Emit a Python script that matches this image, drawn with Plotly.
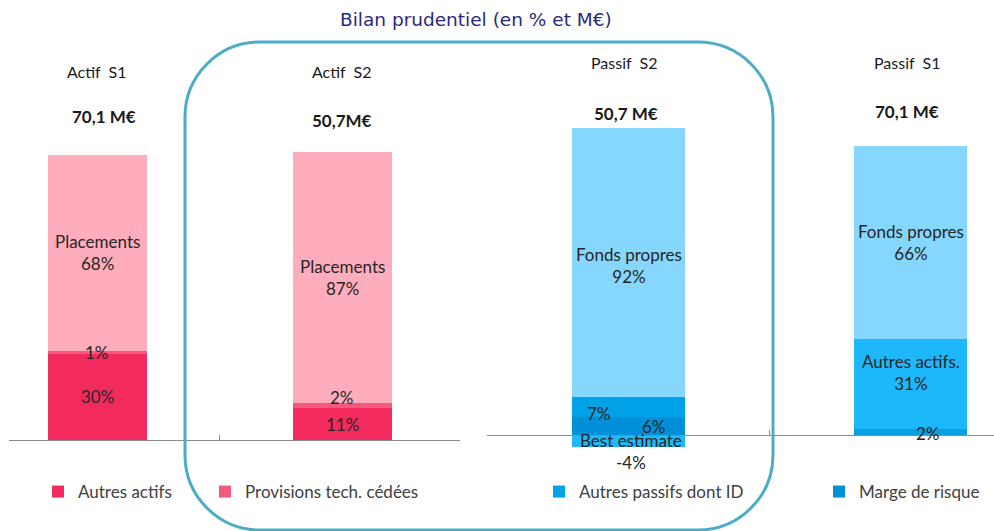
import plotly.graph_objects as go

# ---------------- data ----------------
left_categories = ["Actif S1", "Actif S2"]
left_totals = ["70,1 M€", "50,7M€"]
autres_actifs = [30, 11]
provisions_cedees = [1, 2]
placements = [68, 87]

right_categories = ["Passif S2", "Passif S1"]
right_totals = ["50,7 M€", "70,1 M€"]
marge_risque = [6, 2]
autres_passifs = [7, 31]
fonds_propres = [92, 66]
best_estimate = [-4, None]

title_text = "Bilan prudentiel (en % et M€)"

# ---------------- styles ----------------
W, H = 994, 531
FONT = "Lato, 'Open Sans', sans-serif"
TXT = "#262626"

c_autres_actifs = "#F22A5E"
c_provisions = "#F4587C"
c_placements = "#FFADBC"
c_marge = ["#0090DA", "#0A9FE3"]
c_autres_passifs = ["#00A2E8", "#1DB8FA"]
c_fonds = "#85D7FD"
c_best = "#20B9F6"

lo1, hi1 = -31.6, 152.8
lo2, hi2 = -32.9, 148.9

fig = go.Figure()

def bar(name, cats, vals, color, xa, ya, width, legend="legend", showlegend=True):
    fig.add_trace(go.Bar(
        name=name, x=cats, y=vals, marker=dict(color=color, line=dict(width=0)),
        xaxis=xa, yaxis=ya, width=width, showlegend=showlegend,
        legend=legend, hoverinfo="skip",
    ))

# left chart (actif)
bar("Autres actifs", left_categories, autres_actifs, c_autres_actifs, "x", "y", 0.404, "legend")
bar("Provisions tech. cédées", left_categories, provisions_cedees, c_provisions, "x", "y", 0.404, "legend2")
bar("Placements", left_categories, placements, c_placements, "x", "y", 0.404, showlegend=False)

# right chart (passif)
bar("Marge de risque", right_categories, marge_risque, c_marge, "x2", "y2", 0.40, "legend4")
bar("Autres passifs dont ID", right_categories, autres_passifs, c_autres_passifs, "x2", "y2", 0.40, "legend3")
bar("Fonds propres", right_categories, fonds_propres, c_fonds, "x2", "y2", 0.40, showlegend=False)
bar("Best estimate", right_categories, best_estimate, c_best, "x2", "y2", 0.40, showlegend=False)

annotations = []

def stack_labels(cats, series, labels, shifts, xref, yref):
    pos = [0] * len(cats)
    neg = [0] * len(cats)
    for s, vals in enumerate(series):
        for i, v in enumerate(vals):
            if v is None:
                continue
            if v >= 0:
                c = pos[i] + v / 2
                pos[i] += v
            else:
                c = neg[i] + v / 2
                neg[i] += v
            t = labels[s][i]
            if not t:
                continue
            dx, dy = shifts.get((s, i), (0, 0))
            annotations.append(dict(
                x=cats[i], y=c, xref=xref, yref=yref, text=t, showarrow=False,
                xshift=dx, yshift=dy, yanchor="middle", xanchor="center",
                font=dict(family=FONT, size=17, color=TXT), align="center",
            ))

left_series = [autres_actifs, provisions_cedees, placements]
left_labels = [
    [f"{v}%" for v in autres_actifs],
    [f"{v}%" for v in provisions_cedees],
    [f"Placements<br>{v}%" for v in placements],
]
stack_labels(left_categories, left_series, left_labels,
             {(1, 1): (0, 8)}, "x", "y")

right_series = [marge_risque, autres_passifs, fonds_propres, best_estimate]
right_labels = [
    [f"{marge_risque[0]}%", f"{marge_risque[1]}%"],
    [f"{autres_passifs[0]}%", f"Autres actifs.<br>{autres_passifs[1]}%"],
    [f"Fonds propres<br>{v}%" for v in fonds_propres],
    [f"Best estimate<br>{best_estimate[0]}%", None],
]
stack_labels(right_categories, right_series, right_labels,
             {(0, 0): (25, 0), (1, 0): (-30, -6), (0, 1): (17, -2),
              (1, 1): (0, 11), (3, 0): (2, -11), (2, 0): (0, -3)}, "x2", "y2")

# headers and totals
hdr_pos = {"x": ([72, 72], [117, 121], [0, 0], [7, 0]),
           "x2": ([62, 62], [113, 112], [-5, -4], [-3, -4])}
for xref, cats, tots in (("x", left_categories, left_totals), ("x2", right_categories, right_totals)):
    hy, ty, hdx, tdx = hdr_pos[xref]
    for i, c in enumerate(cats):
        annotations.append(dict(x=c, xref=xref, y=1 - hy[i] / H, yref="paper", text=c.replace(" ", "\u00a0 "),
                                showarrow=False, xshift=hdx[i], yanchor="middle", xanchor="center",
                                font=dict(family=FONT, size=16, color="#1a1a1a")))
        annotations.append(dict(x=c, xref=xref, y=1 - ty[i] / H, yref="paper", text=f"<b>{tots[i]}</b>",
                                showarrow=False, xshift=tdx[i], yanchor="middle", xanchor="center",
                                font=dict(family=FONT, size=17, color="#1a1a1a")))

annotations.append(dict(x=476 / W, y=1 - 20 / H, xref="paper", yref="paper", text=title_text,
                        showarrow=False, yanchor="middle", xanchor="center",
                        font=dict(family="DejaVu Sans", size=18.5, color="#2A2A7E")))

# rounded frame
L, R, T, B, r = 185, 773, 42, 530, 75
k = 0.5523
def P(px, py):
    return f"{px / W:.5f},{1 - py / H:.5f}"
path = (f"M{P(L + r, T)} L{P(R - r, T)} C{P(R - r + k * r, T)} {P(R, T + r - k * r)} {P(R, T + r)} "
        f"L{P(R, B - r)} C{P(R, B - r + k * r)} {P(R - r + k * r, B)} {P(R - r, B)} "
        f"L{P(L + r, B)} C{P(L + r - k * r, B)} {P(L, B - r + k * r)} {P(L, B - r)} "
        f"L{P(L, T + r)} C{P(L, T + r - k * r)} {P(L + r - k * r, T)} {P(L + r, T)} Z")

legend_style = dict(orientation="h", y=1 - 492 / H, xanchor="left", yanchor="middle",
                    bgcolor="rgba(0,0,0,0)", font=dict(family=FONT, size=17, color="#404040"),
                    itemwidth=30)
legend_x = {"legend": 38, "legend2": 205, "legend3": 539, "legend4": 819}

fig.update_layout(
    width=W, height=H, margin=dict(l=0, r=0, t=0, b=0, autoexpand=False),
    paper_bgcolor="white", plot_bgcolor="white", barmode="relative", bargap=0,
    font=dict(family=FONT, size=16, color=TXT),
    annotations=annotations,
    shapes=[dict(type="path", path=path, xref="paper", yref="paper",
                 line=dict(color="#4BACC6", width=3), fillcolor="rgba(0,0,0,0)", layer="above")],
    xaxis=dict(domain=[9 / W, 460 / W], type="category", categoryorder="array", categoryarray=left_categories,
               range=[-0.361, 1.480], anchor="free", position=-lo1 / (hi1 - lo1),
               showline=True, linecolor="#8C8C8C", linewidth=1, ticks="inside", ticklen=5,
               tickcolor="#8C8C8C", tickson="boundaries", showticklabels=False, showgrid=False,
               zeroline=False, fixedrange=True),
    yaxis=dict(domain=[0, 1], range=[lo1, hi1], visible=False, anchor="x", fixedrange=True),
    xaxis2=dict(domain=[487 / W, 1], type="category", categoryorder="array", categoryarray=right_categories,
                range=[-0.501, 1.294], anchor="free", position=-lo2 / (hi2 - lo2),
                showline=True, linecolor="#8C8C8C", linewidth=1, ticks="inside", ticklen=5,
                tickcolor="#8C8C8C", tickson="boundaries", showticklabels=False, showgrid=False,
                zeroline=False, fixedrange=True),
    yaxis2=dict(domain=[0, 1], range=[lo2, hi2], visible=False, anchor="x2", fixedrange=True),
    **{name: dict(legend_style, x=px / W) for name, px in legend_x.items()},
)

fig.write_html("out.html", config={"displayModeBar": False},
               post_script="document.body.style.margin='0';document.body.style.padding='0';")
